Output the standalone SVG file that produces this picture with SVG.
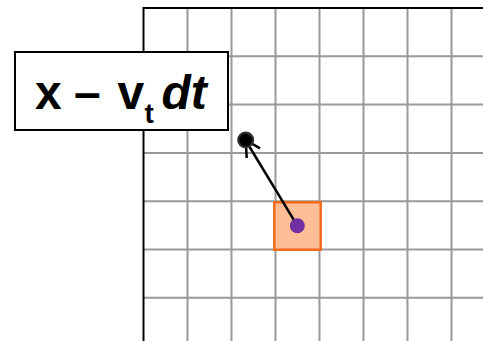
<svg xmlns="http://www.w3.org/2000/svg" width="483" height="341" viewBox="0 0 483 341">
<style>
.g{stroke:#999;stroke-width:2;fill:none}
.b{stroke:#000;stroke-width:2;fill:none}
.t{font-family:"Liberation Sans",Arial,sans-serif;font-weight:bold;fill:#000}
</style>
<rect width="483" height="341" fill="#fff"/>
<g id="grid">
<path class="g" d="M187.5 8V341M231.5 8V341M275.5 8V341M319.5 8V341M363.5 8V341M407.5 8V341M451.5 8V341"/>
<path class="g" d="M143.5 56.3H483M143.5 104.6H483M143.5 152.9H483M143.5 201.2H483M143.5 249.5H483M143.5 297.8H483"/>
<path class="b" d="M143.5 341V8H483"/>
</g>
<g id="cell">
<rect x="274.3" y="202.3" width="46.4" height="47.4" fill="#FFBE96" stroke="#F26B1D" stroke-width="2.5"/>
</g>
<g id="label">
<rect x="15" y="52" width="213" height="78" fill="#fff" stroke="#000" stroke-width="2"/>
<text class="t" x="35" y="108.5" font-size="48"><tspan>x</tspan><tspan x="74">–</tspan><tspan x="117.5">v</tspan><tspan x="144.5" y="123" font-size="28">t</tspan><tspan x="161.5" y="108.5" font-style="italic">dt</tspan></text>
</g>
<g id="connectors">
<line x1="297.3" y1="225.7" x2="246" y2="141" stroke="#000" stroke-width="2.5"/>
<polyline points="246.7,158 245.7,140 260,148.3" fill="none" stroke="#000" stroke-width="2.5"/>
</g>
<g id="source">
<circle cx="297.3" cy="225.7" r="7.5" fill="#7030A0"/>
</g>
<g id="target">
<circle cx="245.7" cy="140" r="7.5" fill="#000" stroke="#333" stroke-width="2"/>
</g>
</svg>
